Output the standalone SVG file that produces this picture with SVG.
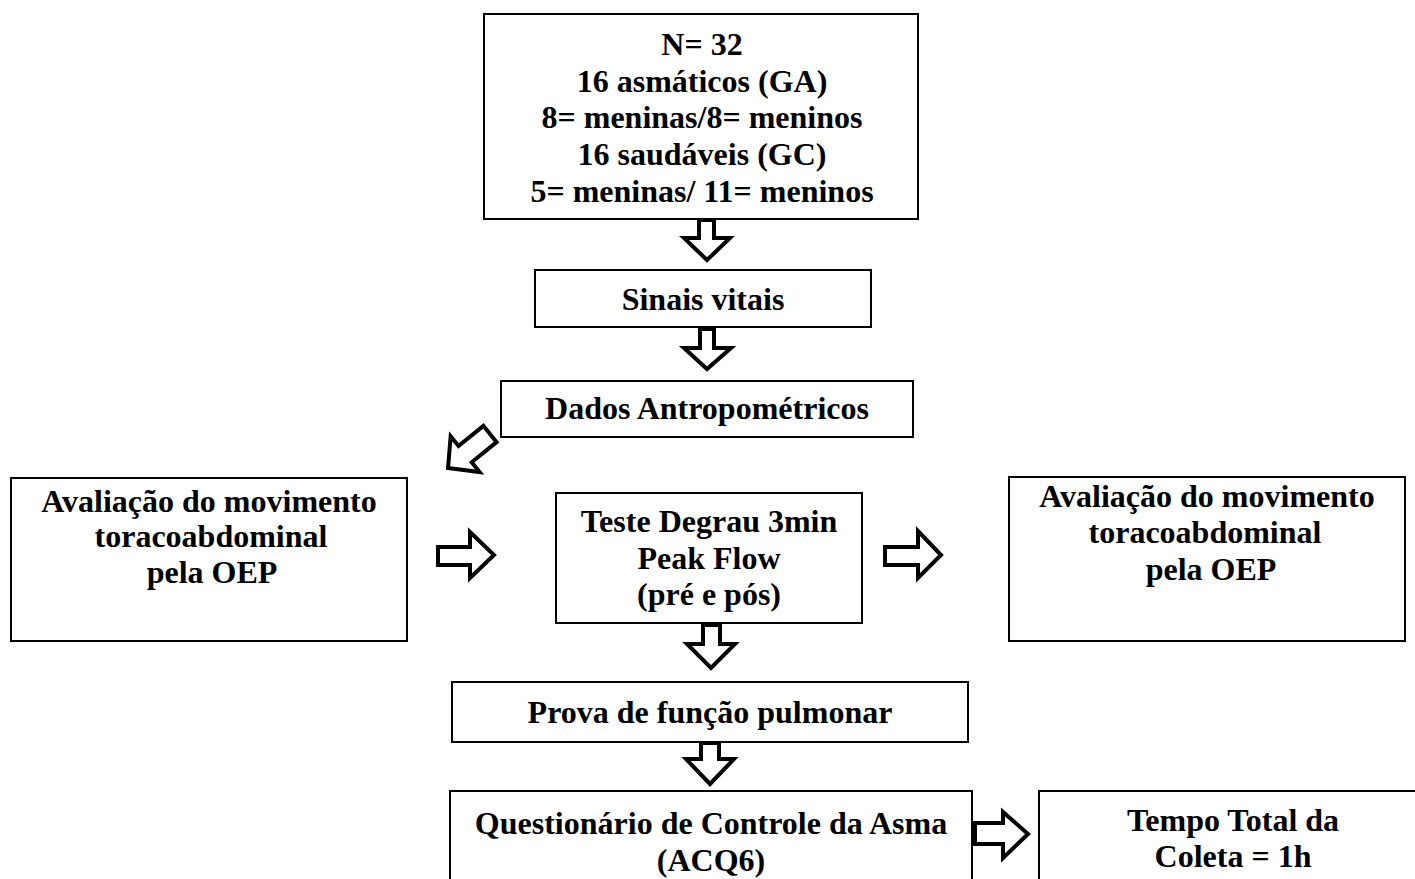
<svg xmlns="http://www.w3.org/2000/svg" width="1415" height="879" viewBox="0 0 1415 879">
<style>
.box{fill:#fff;stroke:#000;stroke-width:2}
.t{font-family:"Liberation Serif","Times New Roman",serif;font-weight:bold;font-size:32px;fill:#000;text-anchor:middle}
.arr{fill:#fff;stroke:#000;stroke-width:4;stroke-linejoin:miter}
</style>
<rect width="1415" height="879" fill="#fff"/>
<g id="n-total">
<rect class="box" x="484" y="14" width="434" height="205"/>
<text class="t" x="702" y="55">N= 32</text>
<text class="t" x="702" y="92">16 asmáticos (GA)</text>
<text class="t" x="702" y="128">8= meninas/8= meninos</text>
<text class="t" x="702" y="165">16 saudáveis (GC)</text>
<text class="t" x="702" y="202">5= meninas/ 11= meninos</text>
</g>
<g id="n-sinais">
<rect class="box" x="535" y="270" width="336" height="57"/>
<text class="t" x="703" y="310">Sinais vitais</text>
</g>
<g id="n-dados">
<rect class="box" x="501" y="381" width="412" height="56"/>
<text class="t" x="707" y="419">Dados Antropométricos</text>
</g>
<g id="n-oep1">
<rect class="box" x="11" y="478" width="396" height="163"/>
<text class="t" x="209" y="512">Avaliação do movimento</text>
<text class="t" x="211" y="547">toracoabdominal</text>
<text class="t" x="212" y="583">pela OEP</text>
</g>
<g id="n-teste">
<rect class="box" x="556" y="493" width="306" height="130"/>
<text class="t" x="709" y="532">Teste Degrau 3min</text>
<text class="t" x="709" y="569">Peak Flow</text>
<text class="t" x="709" y="605">(pré e pós)</text>
</g>
<g id="n-oep2">
<rect class="box" x="1009" y="477" width="396" height="164"/>
<text class="t" x="1207" y="507">Avaliação do movimento</text>
<text class="t" x="1205" y="543">toracoabdominal</text>
<text class="t" x="1211" y="580">pela OEP</text>
</g>
<g id="n-prova">
<rect class="box" x="452" y="682" width="516" height="60"/>
<text class="t" x="710" y="723">Prova de função pulmonar</text>
</g>
<g id="n-acq">
<rect class="box" x="450" y="791" width="522" height="100"/>
<text class="t" x="711" y="834">Questionário de Controle da Asma</text>
<text class="t" x="711" y="871">(ACQ6)</text>
</g>
<g id="n-tempo">
<rect class="box" x="1039" y="791" width="390" height="100"/>
<text class="t" x="1233" y="831">Tempo Total da</text>
<text class="t" x="1233" y="867">Coleta = 1h</text>
</g>
<g id="connectors">
<polygon class="arr" points="699,220 714,220 714,238 730,238 707,260 684,238 699,238"/>
<polygon class="arr" points="700,329 714,329 714,348 731,348 707,369 684,348 700,348"/>
<polygon class="arr" points="0,-10.5 32,-10.5 32,-23 54,0 32,23 32,10.5 0,10.5" transform="translate(490,434) rotate(141)"/>
<polygon class="arr" points="438,547 470,547 470,532 494,555 470,578 470,565 438,565"/>
<polygon class="arr" points="885,547 918,547 918,531 941,555 918,578 918,565 885,565"/>
<polygon class="arr" points="703,625 720,625 720,644 735,644 711,668 687,644 703,644"/>
<polygon class="arr" points="701,743 719,743 719,759 734,759 710,784 686,759 701,759"/>
<polygon class="arr" points="975,823 1003,823 1003,812 1028,834 1003,858 1003,844 975,844"/>
</g>
</svg>
